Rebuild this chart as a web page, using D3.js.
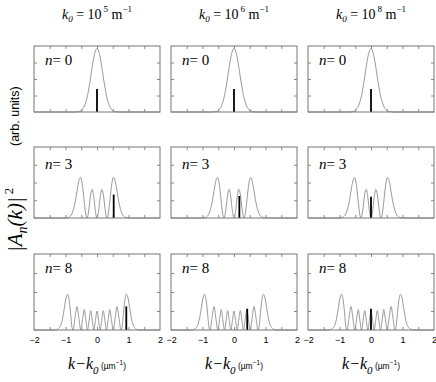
<!DOCTYPE html>
<html>
<head>
<meta charset="utf-8">
<script src="https://cdn.jsdelivr.net/npm/d3@7"></script>
<style>
body{margin:0;background:#fff;}
text{fill:#000;}
</style>
</head>
<body>
<div id="plot"></div>
<script>
// column headings (exponent of k0) and rows (level n)
var k0Exp = ['5','6','8'];
var nLevels = [0,3,8];

// position and height of the black marker, [column][row]
var barPos = [[0,0.53,0.93],[0,0.17,0.42],[0,0,0]];
var barHeight = [[0.35,0.33,0.31],[0.35,0.31,0.28],[0.35,0.30,0.28]];

// |A_n(k)|^2, k in um^-1, height as fraction of panel
var k0 = [-2,-0.7,-0.6,-0.5,-0.45,-0.4,-0.35,-0.3,-0.25,-0.2,-0.15,-0.1,-0.05,0,0.05,0.1,0.15,0.2,0.25,0.3,0.35,0.4,0.45,0.5,0.6,0.7,2];
var amp0 = [0,0,0.005,0.02,0.05,0.09,0.16,0.25,0.38,0.53,0.69,0.83,0.925,0.96,0.925,0.83,0.69,0.53,0.38,0.25,0.16,0.09,0.05,0.02,0.005,0,0];

var k3 = [-2,-1.05,-0.95,-0.9,-0.85,-0.8,-0.75,-0.7,-0.65,-0.6,-0.55,-0.525,-0.5,-0.45,-0.4,-0.35,-0.32,-0.3,-0.25,-0.2,-0.15,-0.1,-0.05,0,
          0.05,0.1,0.15,0.2,0.25,0.3,0.32,0.35,0.4,0.45,0.5,0.525,0.55,0.6,0.65,0.7,0.75,0.8,0.85,0.9,0.95,1.05,2];
var amp3 = [0,0,0.004,0.01,0.025,0.058,0.117,0.211,0.337,0.471,0.559,0.57,0.549,0.415,0.207,0.036,0,0.012,0.151,0.335,0.403,0.289,0.095,0,
          0.095,0.289,0.403,0.335,0.151,0.012,0,0.036,0.207,0.415,0.549,0.57,0.559,0.471,0.337,0.211,0.117,0.058,0.025,0.01,0.004,0,0];

var k8 = [-2,-1.36,-1.3,-1.25,-1.2,-1.14,-1.09,-1.04,-0.99,-0.935,-0.88,-0.83,-0.8,-0.76,-0.7,-0.635,-0.575,-0.515,-0.46,-0.405,-0.355,-0.3,-0.25,-0.2,-0.15,-0.1,-0.05,0,
          0.05,0.1,0.15,0.2,0.25,0.3,0.355,0.405,0.46,0.515,0.575,0.635,0.7,0.76,0.8,0.83,0.88,0.935,0.99,1.04,1.09,1.14,1.2,1.25,1.3,1.36,2];
var amp8 = [0,0,0.003,0.011,0.03,0.075,0.16,0.28,0.41,0.47,0.38,0.18,0.05,0,0.155,0.31,0.155,0,0.135,0.27,0.135,0,0.128,0.255,0.128,0,0.125,0.25,
          0.125,0,0.128,0.255,0.128,0,0.135,0.27,0.135,0,0.155,0.31,0.155,0,0.05,0.18,0.38,0.47,0.41,0.28,0.16,0.075,0.03,0.011,0.003,0,0];

var curves = [d3.zip(k0,amp0), d3.zip(k3,amp3), d3.zip(k8,amp8)];
var xTicks = [-2,-1,0,1,2];

//layout
var colX = [34,171,308], panelW = 126;
var rowY = [{t:46,b:112},{t:147,b:218},{t:254,b:330}];

var svg = d3.select('#plot')
    .append('svg')
    .attr('width',436)
    .attr('height',382);

var x = d3.scaleLinear().domain([-2,2]).range([0,panelW]);
var line = d3.line().curve(d3.curveMonotoneX);

colX.forEach(function(cx,ci){
    // heading
    var t = svg.append('text')
        .attr('x',cx+panelW/2)
        .attr('y',19)
        .attr('text-anchor','middle')
        .style('font-family','"Liberation Serif", serif')
        .style('font-size','14px');
    t.append('tspan').style('font-style','italic').text('k');
    t.append('tspan').style('font-style','italic').style('font-size','9px').attr('dy',3).text('0');
    t.append('tspan').attr('dy',-3).text(' = 10');
    t.append('tspan').style('font-size','9px').attr('dy',-7).attr('dx',2).text(k0Exp[ci]);
    t.append('tspan').attr('dy',7).text(' m');
    t.append('tspan').style('font-size','9px').attr('dy',-7).text('\u22121');

    rowY.forEach(function(r,ri){
        var h = r.b - r.t;
        var y = d3.scaleLinear().domain([0,1]).range([h,0]);
        var g = svg.append('g').attr('transform','translate('+cx+','+r.t+')');

        var ticks = [
            {ax:d3.axisBottom(x).tickValues(d3.range(-1.5,2,0.5)), tr:'translate(0,'+h+')'},
            {ax:d3.axisTop(x).tickValues(d3.range(-1.5,2,0.5)), tr:'translate(0,0)'},
            {ax:d3.axisLeft(y).tickValues([0.25,0.5,0.75]), tr:'translate(0,0)'},
            {ax:d3.axisRight(y).tickValues([0.25,0.5,0.75]), tr:'translate('+panelW+',0)'}
        ];
        ticks.forEach(function(a){
            var s = g.append('g').attr('transform',a.tr)
                .call(a.ax.tickSize(-3).tickFormat(''));
            s.select('.domain').remove();
            s.selectAll('line').attr('stroke','#888');
        });

        g.append('path')
            .datum(curves[ri])
            .attr('d',line.x(function(d){return x(d[0]);}).y(function(d){return y(d[1]);}))
            .attr('fill','none')
            .attr('stroke','#999')
            .attr('stroke-width',1);

        g.append('line')
            .attr('x1',x(barPos[ci][ri])).attr('x2',x(barPos[ci][ri]))
            .attr('y1',y(0)).attr('y2',y(barHeight[ci][ri]))
            .attr('stroke','#000')
            .attr('stroke-width',1.8);

        g.append('rect')
            .attr('width',panelW).attr('height',h)
            .attr('fill','none')
            .attr('stroke','#777')
            .attr('stroke-width',1);

        var nl = g.append('text')
            .attr('x',11).attr('y',ri==1 ? 22 : 19)
            .style('font-family','"Liberation Serif", serif')
            .style('font-size','15px');
        nl.append('tspan').style('font-style','italic').text('n');
        nl.append('tspan').text('= '+nLevels[ri]);

        if(ri==2){
            var lab = g.append('g').attr('transform','translate(0,'+h+')')
                .call(d3.axisBottom(x).tickValues(xTicks).tickSize(0).tickPadding(7).tickFormat(d3.format('d')));
            lab.select('.domain').remove();
            lab.selectAll('text')
                .style('font-family','"Liberation Sans", sans-serif')
                .style('font-size','9px');
        }
    });

    var xl = svg.append('text')
        .attr('x',cx+panelW/2)
        .attr('y',369)
        .attr('text-anchor','middle')
        .style('font-family','"Liberation Serif", serif')
        .style('font-size','16px');
    xl.append('tspan').style('font-style','italic').text('k\u2212k');
    xl.append('tspan').style('font-style','italic').style('font-size','11px').attr('dy',5).text('0');
    xl.append('tspan').style('font-family','"Liberation Sans", sans-serif').style('font-size','8.5px').attr('dy',-5).text(' (\u00b5m');
    xl.append('tspan').style('font-family','"Liberation Sans", sans-serif').style('font-size','6.5px').attr('dy',-4).text('\u22121');
    xl.append('tspan').style('font-family','"Liberation Sans", sans-serif').style('font-size','8.5px').attr('dy',4).text(')');
});

// y axis title, two pieces reading upward
var yl = svg.append('text')
    .attr('transform','translate(22,252) rotate(-90)')
    .attr('text-anchor','start')
    .style('font-family','"Liberation Serif", serif')
    .style('font-size','21px');
yl.append('tspan').style('font-style','italic').text('|A');
yl.append('tspan').style('font-style','italic').style('font-size','14px').attr('dy',5).text('n');
yl.append('tspan').style('font-style','italic').attr('dy',-5).text('(k)|');
yl.append('tspan').style('font-size','13px').attr('dy',-9).attr('dx',3).text('2');

svg.append('text')
    .attr('transform','translate(19,146) rotate(-90)')
    .attr('text-anchor','start')
    .style('font-family','"Liberation Sans", sans-serif')
    .style('font-size','12.5px')
    .text('(arb. units)');
</script>
</body>
</html>
